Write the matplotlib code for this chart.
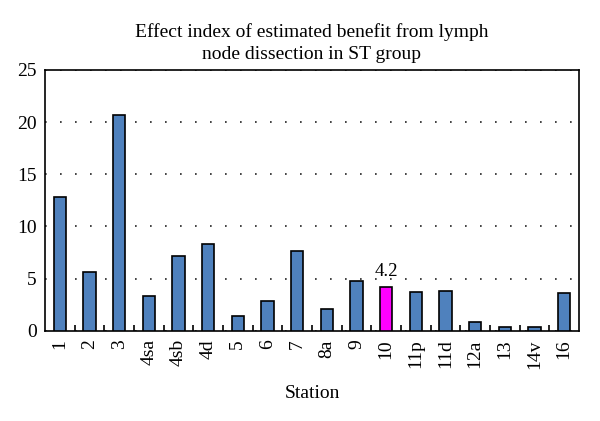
import matplotlib.pyplot as plt
import numpy as np

stations = ["1", "2", "3", "4sa", "4sb", "4d", "5", "6", "7", "8a", "9", "10",
            "11p", "11d", "12a", "13", "14v", "16"]
values = [12.8, 5.6, 20.7, 3.3, 7.2, 8.3, 1.45, 2.85, 7.7, 2.1, 4.75, 4.2,
          3.77, 3.86, 0.85, 0.42, 0.42, 3.67]
highlight = "10"

plt.rcParams['font.family'] = ['Liberation Serif', 'DejaVu Serif']

fig = plt.figure(figsize=(6, 4.21), dpi=100)
ax = fig.add_axes([0.075, 0.214, 0.89, 0.62])

x = np.arange(len(stations))
colors = ['#ff00ff' if s == highlight else '#4f81bd' for s in stations]
ax.bar(x, values, width=0.42, color=colors, edgecolor='black', linewidth=1.2, zorder=3)

i = stations.index(highlight)
ax.text(x[i], values[i] + 0.7, "%.1f" % values[i], ha='center', va='bottom', fontsize=13.5)

ax.set_xlim(-0.5, len(stations) - 0.5)
ax.set_ylim(0, 25)
ax.set_yticks([0, 5, 10, 15, 20, 25])
ax.tick_params(axis='y', length=0, labelsize=14, pad=6)
ax.set_xticks(x)
ax.set_xticklabels(stations, rotation=90, fontsize=14)
ax.tick_params(axis='x', which='major', length=0, pad=6)
ax.set_xticks(np.arange(0.5, len(stations) - 1, 1), minor=True)
ax.tick_params(axis='x', which='minor', direction='in', length=4, width=1.2)

ax.yaxis.grid(True, linestyle=(0, (1, 8)), color='#222222', linewidth=1.2)
for s in ax.spines.values():
    s.set_linewidth(1.2)

ax.set_xlabel("Station", fontsize=14, labelpad=12)
ax.set_title("Effect index of estimated benefit from lymph\nnode dissection in ST group",
             fontsize=14, pad=8, linespacing=1.4)

plt.savefig('out.png', dpi=100)
